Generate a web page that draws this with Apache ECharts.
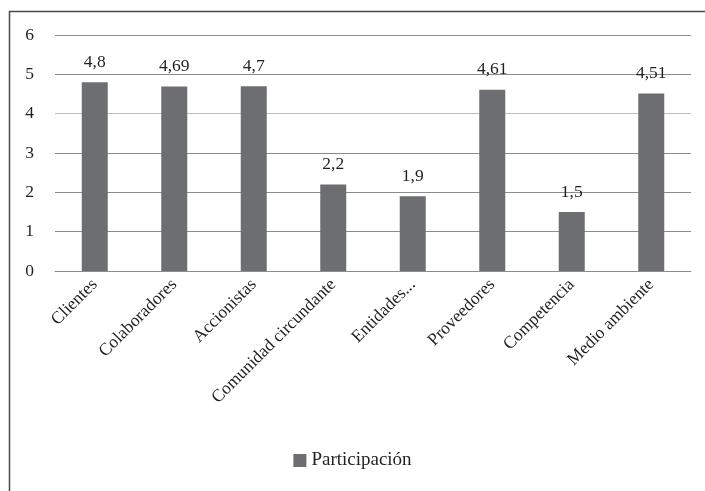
<!DOCTYPE html>
<html><head><meta charset="utf-8">
<script src="https://cdn.jsdelivr.net/npm/echarts@6/dist/echarts.min.js"></script>
<style>html,body{margin:0;padding:0;background:#fff}#c{width:705px;height:491px}</style>
</head><body><div id="c"></div>
<script>
const categories = ['Clientes','Colaboradores','Accionistas','Comunidad circundante','Entidades...','Proveedores','Competencia','Medio ambiente'];
const participacion = [4.8, 4.69, 4.7, 2.2, 1.9, 4.61, 1.5, 4.51];
const seriesName = 'Participación';
const yTicks = [0, 1, 2, 3, 4, 5, 6];

const font = 'Liberation Serif, DejaVu Serif, serif';
const chart = echarts.init(document.getElementById('c'), null, {renderer: 'canvas'});
chart.setOption({
  animation: false,
  backgroundColor: '#fff',
  textStyle: {fontFamily: font, color: '#231f20'},
  graphic: [{
    type: 'rect', left: 7, top: 9, z: -1,
    shape: {width: 720, height: 500},
    style: {fill: 'none', stroke: '#4a4a4a', lineWidth: 1.5}
  }],
  grid: {left: 55, right: 14, top: 35, bottom: 220, containLabel: false},
  legend: {
    bottom: 16, left: 'center',
    data: [seriesName],
    icon: 'rect', itemWidth: 13, itemHeight: 13, itemGap: 12,
    textStyle: {fontFamily: font, fontSize: 19, color: '#231f20'}
  },
  xAxis: {
    type: 'category', data: categories,
    axisLine: {lineStyle: {color: '#8c8c8c', width: 1}},
    axisTick: {show: false},
    axisLabel: {rotate: 45, interval: 0, margin: 11, fontFamily: font, fontSize: 17.5, color: '#231f20'}
  },
  yAxis: {
    type: 'value', min: yTicks[0], max: yTicks[yTicks.length-1], interval: 1,
    axisLine: {show: false}, axisTick: {show: false},
    axisLabel: {margin: 21, fontFamily: font, fontSize: 17.5, color: '#231f20'},
    splitLine: {lineStyle: {color: ['#8c8c8c','#8c8c8c','#8c8c8c','#8c8c8c','#bdbdbd','#8c8c8c','#8c8c8c'], width: 1}}
  },
  series: [{
    name: seriesName, type: 'bar', data: participacion,
    barWidth: 26,
    itemStyle: {color: '#6d6e71'},
    label: {
      show: true, position: 'top', distance: 11,
      fontFamily: font, fontSize: 17.5, color: '#231f20',
      formatter: p => String(p.value).replace('.', ',')
    }
  }]
});
</script></body></html>
